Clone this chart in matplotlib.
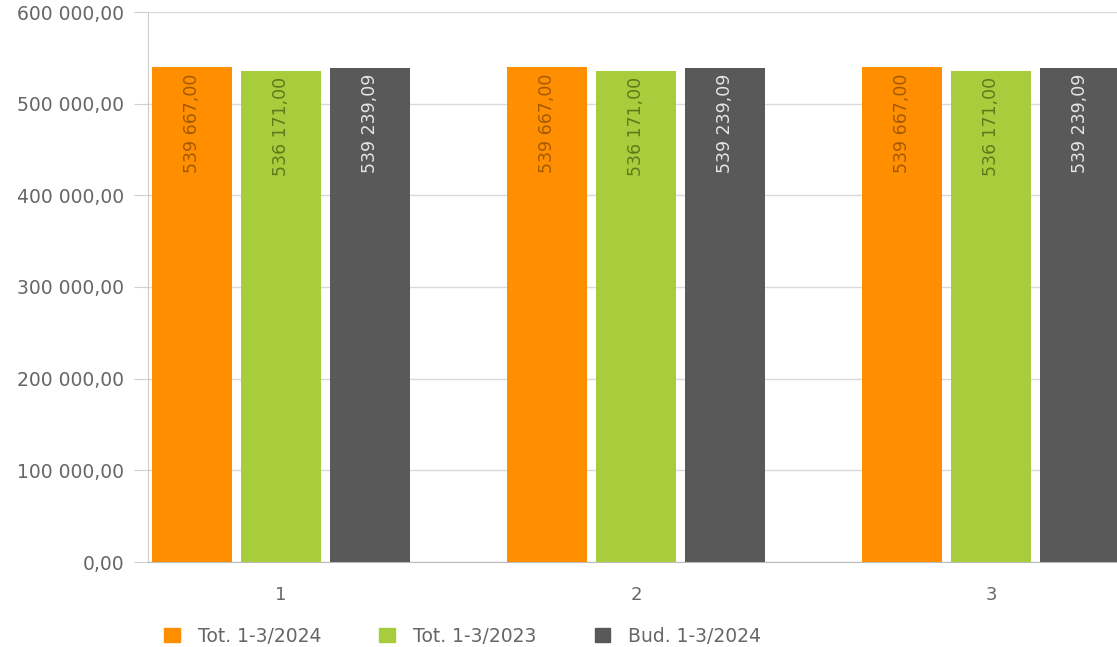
import numpy as np
import matplotlib.pyplot as plt
from matplotlib.patches import Patch

categories = ['1', '2', '3']
series_names = ['Tot. 1-3/2024', 'Tot. 1-3/2023', 'Bud. 1-3/2024']
tot_2024 = [539667.00, 539667.00, 539667.00]
tot_2023 = [536171.00, 536171.00, 536171.00]
bud_2024 = [539239.09, 539239.09, 539239.09]
yticks = [0, 100000, 200000, 300000, 400000, 500000, 600000]

colors = ['#ff8f00', '#a8cd3c', '#595959']
label_colors = ['#a35a00', '#5f7a1c', '#e6e6e6']
font = 'DejaVu Sans'
grey = '#666666'


def fmt(v):
    s = f"{v:,.2f}"
    return s.replace(',', ' ').replace('.', ',')


fig = plt.figure(figsize=(11.17, 6.47), dpi=100)
ax = fig.add_axes([148 / 1117, 1 - 562 / 647, 1 - 148 / 1117, 550 / 647])

x = np.arange(len(categories))
width = 0.225
offsets = [-0.25, 0, 0.25]
for vals, off, c, lc in zip([tot_2024, tot_2023, bud_2024], offsets, colors, label_colors):
    bars = ax.bar(x + off, vals, width, color=c, zorder=3)
    for b, v in zip(bars, vals):
        ax.text(b.get_x() + b.get_width() / 2, v - 7000, fmt(v), rotation=90,
                ha='center', va='top', color=lc, fontsize=12.5, family=font, zorder=4)

ax.set_xlim(-0.375, 2.355)
ax.set_ylim(0, 600000)
ax.set_yticks(yticks)
ax.set_yticklabels([fmt(t) for t in yticks], family=font, fontsize=13.5, color=grey)
ax.set_xticks(x)
ax.set_xticklabels(categories, family=font, fontsize=13, color=grey)
ax.tick_params(axis='x', length=0, pad=17)
ax.tick_params(axis='y', length=10, color='#d0d0d0', pad=7)
ax.grid(axis='y', color='#d9d9d9', linewidth=1, zorder=0)

for side in ['top', 'right']:
    ax.spines[side].set_visible(False)
ax.spines['left'].set_color('#cccccc')
ax.spines['bottom'].set_color('#bbbbbb')

handles = [Patch(color=c, label=n) for c, n in zip(colors, series_names)]
leg = fig.legend(handles=handles, loc='center left', bbox_to_anchor=(147 / 1117, 1 - 636 / 647),
                 ncol=3, frameon=False, handlelength=0.85, handleheight=0.85,
                 handletextpad=0.95, columnspacing=3.1, fontsize=13.5)
for t in leg.get_texts():
    t.set_color(grey)

fig.savefig('out.png', dpi=100)
